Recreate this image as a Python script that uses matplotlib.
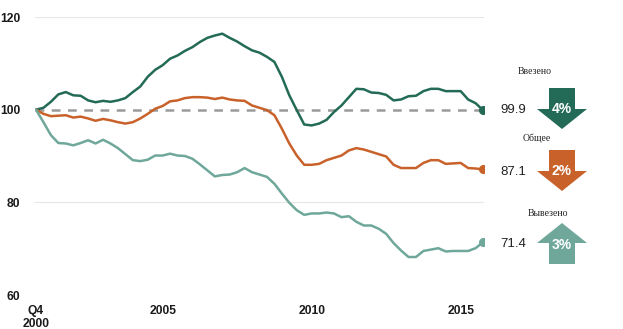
import matplotlib.pyplot as plt
from matplotlib.patches import FancyArrow
import numpy as np

# quarterly index, Q4 2000 = 100 (Q4 2000 .. Q4 2015)
imports = [100.0, 100.4, 101.7, 103.3, 103.8, 103.1, 103.0, 102.0, 101.6, 101.9,
           101.7, 102.0, 102.5, 103.8, 105.0, 107.1, 108.6, 109.6, 111.0, 111.7,
           112.7, 113.5, 114.6, 115.5, 116.0, 116.4, 115.5, 114.7, 113.7, 112.8,
           112.3, 111.4, 110.3, 107.1, 103.1, 99.9, 96.8, 96.6, 97.0, 97.8,
           99.5, 100.9, 102.7, 104.5, 104.4, 103.7, 103.6, 103.2, 102.0, 102.2,
           102.9, 103.0, 104.0, 104.5, 104.5, 104.0, 104.0, 104.0, 102.2, 101.4,
           99.9]
total = [100.0, 99.1, 98.6, 98.7, 98.8, 98.3, 98.5, 98.1, 97.6, 98.0,
         97.7, 97.3, 97.0, 97.3, 98.1, 99.1, 100.2, 100.8, 101.8, 102.0,
         102.5, 102.7, 102.7, 102.6, 102.3, 102.6, 102.2, 102.0, 101.9, 100.9,
         100.4, 99.9, 98.8, 95.9, 92.7, 90.1, 88.1, 88.1, 88.3, 89.1,
         89.6, 90.1, 91.2, 91.7, 91.4, 90.9, 90.4, 89.9, 88.1, 87.4,
         87.4, 87.4, 88.5, 89.1, 89.1, 88.3, 88.4, 88.5, 87.4, 87.3,
         87.1]
exports = [100.0, 97.3, 94.5, 92.8, 92.7, 92.3, 92.8, 93.4, 92.7, 93.5,
           92.7, 91.7, 90.4, 89.1, 88.9, 89.2, 90.1, 90.1, 90.5, 90.1,
           90.0, 89.4, 88.2, 86.9, 85.6, 85.9, 86.0, 86.5, 87.4, 86.5,
           86.0, 85.5, 84.0, 81.9, 79.9, 78.3, 77.3, 77.6, 77.6, 77.8,
           77.6, 76.8, 77.0, 75.8, 75.0, 75.0, 74.3, 73.2, 71.2, 69.6,
           68.2, 68.2, 69.5, 69.8, 70.1, 69.4, 69.5, 69.5, 69.5, 70.1,
           71.4]

tick_pos = [0, 17, 37, 57]
tick_labels = ["Q4\n2000", "2005", "2010", "2015"]

names = ["Ввезено", "Общее", "Вывезено"]
changes = ["4%", "2%", "3%"]
directions = [-1, -1, 1]   # -1 down, 1 up
colors = ["#236b56", "#c9622a", "#6fa89b"]

fig = plt.figure(figsize=(6.23, 3.29), dpi=100)
W, H = 623, 329
ax = fig.add_axes([34.5 / W, (H - 295) / H, 450 / W, 278 / H])

x = np.arange(len(imports))
for series, c in zip([imports, total, exports], colors):
    ax.plot(x, series, color=c, lw=1.8, zorder=3, solid_capstyle="round")
    ax.plot(x[-1], series[-1], "o", color=c, ms=5.5, zorder=4)

ax.axhline(100, color="#9a9a9a", lw=1.8, ls=(0, (3.5, 3)), zorder=2)
for v in [60, 80, 120]:
    ax.axhline(v, color="#e6e6e6", lw=0.8, zorder=1)

ax.set_xlim(-0.2, 60.2)
ax.set_ylim(60, 120)
ax.set_yticks([60, 80, 100, 120])
ax.set_xticks(tick_pos)
ax.set_xticklabels(tick_labels, linespacing=1.1)
for lab in ax.get_xticklabels() + ax.get_yticklabels():
    lab.set_fontweight("bold")
    lab.set_fontfamily("Liberation Sans")
    lab.set_fontsize(8.7)
    lab.set_color("#1a1a1a")
ax.tick_params(length=0)
ax.tick_params(axis="y", pad=10)
ax.tick_params(axis="x", pad=7)
for s in ax.spines.values():
    s.set_visible(False)

# right-hand annotation panel in pixel coordinates
ov = fig.add_axes([0, 0, 1, 1])
ov.set_xlim(0, W)
ov.set_ylim(H, 0)
ov.axis("off")

ends = [imports[-1], total[-1], exports[-1]]
name_xy = [(535, 71), (537, 138), (548, 213)]
row_y = [110, 172, 244]
for name, ch, d, c, end, nxy, ry in zip(names, changes, directions, colors,
                                         ends, name_xy, row_y):
    ov.text(nxy[0], nxy[1], name, family="Liberation Serif", fontsize=7,
            ha="center", va="center", color="#222222")
    ov.text(513, ry, f"{end:.1f}", family="Liberation Sans", fontsize=9.5,
            ha="center", va="center", color="#222222")
    if d < 0:
        start, dy = ry - 22, 41
        ty = ry - 1
    else:
        start, dy = ry + 20, -41
        ty = ry + 1
    ov.add_patch(FancyArrow(562, start, 0, dy, width=26, head_width=50,
                            head_length=20, length_includes_head=True,
                            color=c, lw=0))
    ov.text(562, ty, ch, family="Liberation Sans", fontsize=10,
            fontweight="bold", ha="center", va="center", color="white")

fig.savefig("out.png", dpi=100)
